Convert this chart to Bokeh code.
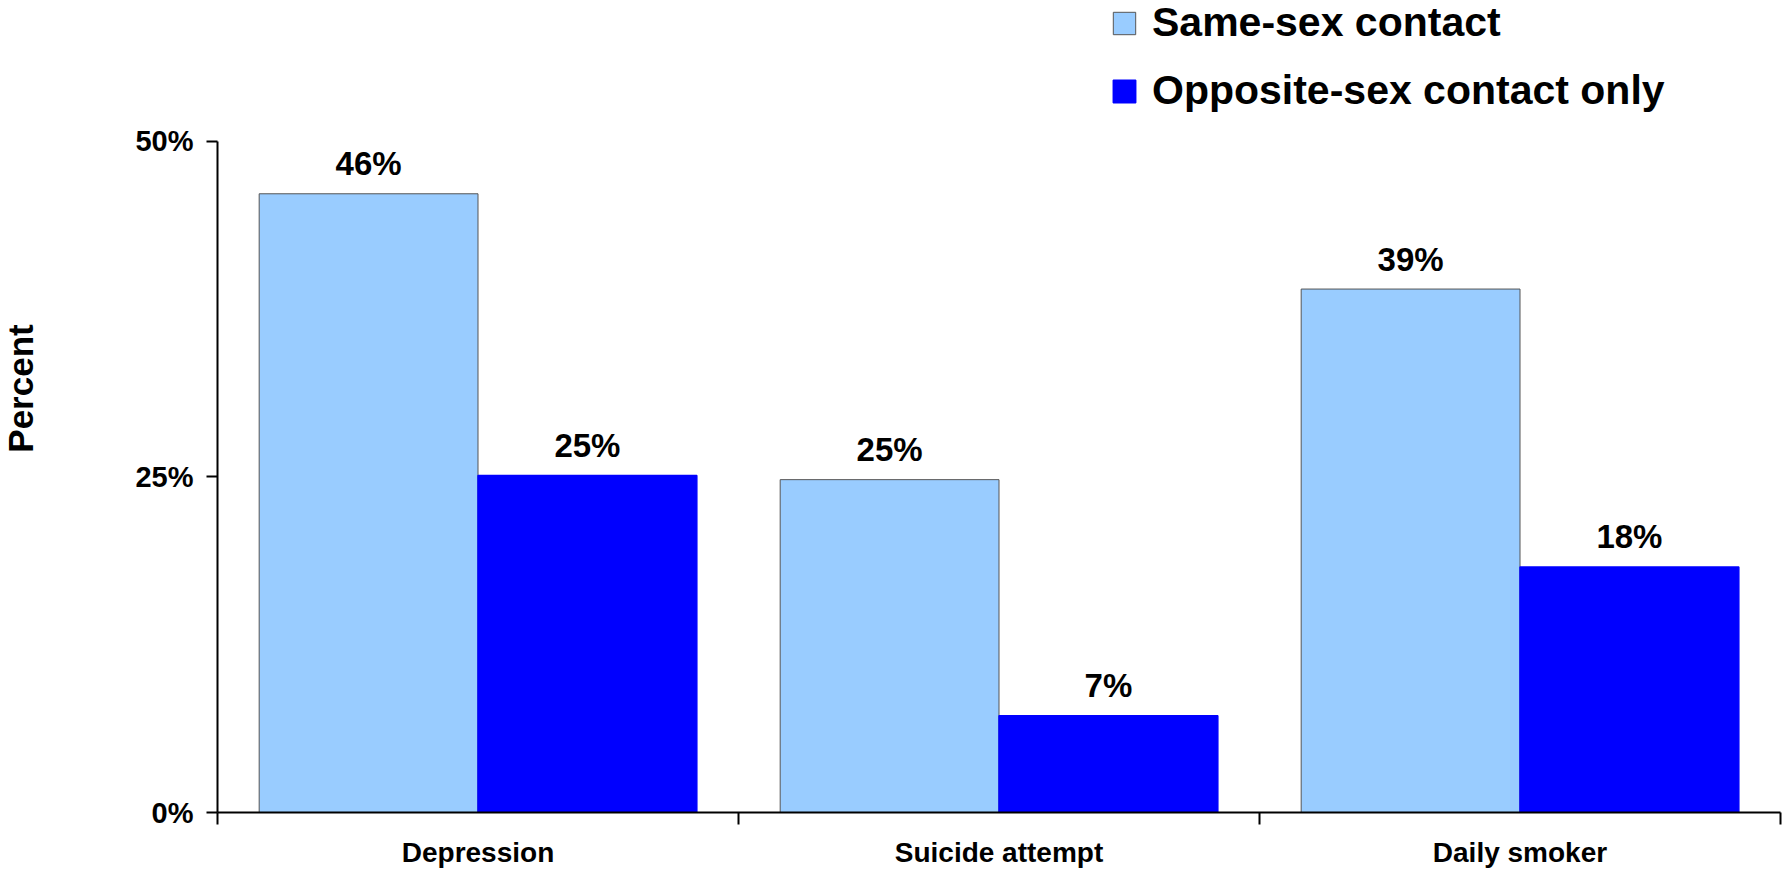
import numpy as np
from bokeh.plotting import figure
from bokeh.models import (ColumnDataSource, FactorRange, Range1d, LinearAxis,
                          FixedTicker, Legend, LegendItem, Label)
from bokeh.transform import dodge
from bokeh.core.properties import value
from bokeh.embed import file_html
from bokeh.resources import INLINE

# ---- data ----
categories = ["Depression", "Suicide attempt", "Daily smoker"]
series = ["Same-sex contact", "Opposite-sex contact only"]
same_sex = [46.1, 24.8, 39.0]
opposite_sex = [25.1, 7.2, 18.3]
same_labels = ["46%", "25%", "39%"]
opp_labels = ["25%", "7%", "18%"]
y_ticks = [0, 25, 50]
y_tick_labels = ["0%", "25%", "50%"]
y_axis_title = "Percent"

FONT = "Liberation Sans"
LIGHT = "#99CCFF"
DARK = "#0000FF"

src = ColumnDataSource(dict(cat=categories, same=same_sex, opp=opposite_sex,
                            same_lbl=same_labels, opp_lbl=opp_labels))

xr = FactorRange(*categories, range_padding=0)
# the frame reaches the top of the page (room for the legend); the axis stops at 50%
p = figure(width=1782, height=870, x_range=xr, y_range=Range1d(0, 60.5),
           output_backend="svg", toolbar_location=None,
           x_axis_type=None, y_axis_type=None,
           min_border_left=217, min_border_right=2,
           min_border_top=0, min_border_bottom=56)
p.outline_line_color = None
p.grid.visible = False
p.background_fill_color = "white"
p.border_fill_color = "white"

off = 0.21
w = 0.42
r1 = p.vbar(x=dodge("cat", -off, range=xr), top="same", width=w, source=src,
            fill_color=LIGHT, line_color="#555555", line_width=1)
r2 = p.vbar(x=dodge("cat", off, range=xr), top="opp", width=w, source=src,
            fill_color=DARK, line_color=DARK, line_width=1.5)

for col, lbl, o in (("same", "same_lbl", -off), ("opp", "opp_lbl", off)):
    p.text(x=dodge("cat", o, range=xr), y=col, text=lbl, source=src,
           text_align="center", text_baseline="alphabetic", y_offset=-30,
           text_font=value(FONT), text_font_style="bold",
           text_font_size="33px", text_color="black")

# y axis
yaxis = LinearAxis(ticker=FixedTicker(ticks=y_ticks), bounds=(y_ticks[0], y_ticks[-1]),
                   major_label_overrides={t: l for t, l in zip(y_ticks, y_tick_labels)},
                   major_tick_out=11, major_tick_in=0,
                   minor_tick_out=0, minor_tick_in=0,
                   major_tick_line_color="black", major_tick_line_width=2,
                   axis_line_color="black", axis_line_width=2,
                   major_label_standoff=13,
                   major_label_text_font=FONT, major_label_text_font_style="bold",
                   major_label_text_font_size="29px", major_label_text_color="black")
p.add_layout(yaxis, "left")

# x axis: labels at category centres, ticks at category boundaries
n = len(categories)
centers = [float(c) for c in np.arange(n) + 0.5]
bounds = [float(b) for b in np.arange(n + 1)]
xaxis = LinearAxis(ticker=FixedTicker(ticks=centers, minor_ticks=bounds),
                   major_label_overrides={c: l for c, l in zip(centers, categories)},
                   major_tick_out=0, major_tick_in=0, major_tick_line_color=None,
                   minor_tick_out=12, minor_tick_in=0,
                   minor_tick_line_color="black", minor_tick_line_width=2,
                   axis_line_color="black", axis_line_width=2,
                   major_label_standoff=12,
                   major_label_text_font=FONT, major_label_text_font_style="bold",
                   major_label_text_font_size="28px", major_label_text_color="black")
p.add_layout(xaxis, "below")

# y axis title (side panel, so it is not clipped to the frame)
p.add_layout(Label(x=20, y=388, x_units="canvas", y_units="canvas",
                   text=y_axis_title, angle=np.pi / 2, text_align="center",
                   text_baseline="middle", text_font=FONT, text_font_style="bold",
                   text_font_size="35px", text_color="black"), "left")

legend = Legend(items=[LegendItem(label=series[0], renderers=[r1]),
                       LegendItem(label=series[1], renderers=[r2])],
                location=(893, 698), orientation="vertical",
                padding=0, margin=0, spacing=21, border_line_color=None,
                background_fill_alpha=0,
                glyph_width=28, glyph_height=28, label_standoff=14,
                label_text_font=FONT, label_text_font_style="bold",
                label_text_font_size="41px", label_text_color="black")
p.add_layout(legend, "center")

open("out.html", "w").write(file_html(p, INLINE))
